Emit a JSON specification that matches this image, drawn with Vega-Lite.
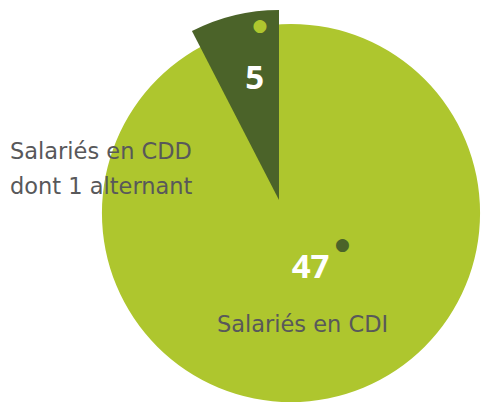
{
  "$schema": "https://vega.github.io/schema/vega-lite/v6.json",
  "width": 485,
  "height": 406,
  "autosize": {"type": "fit", "contains": "padding"},
  "padding": 0,
  "background": "white",
  "config": {"view": {"stroke": null}},
  "data": {
    "values": [
      {"category": "CDI", "value": 47, "label": "Salariés en CDI"},
      {"category": "CDD", "value": 5, "label": "Salariés en CDD\ndont 1 alternant"}
    ]
  },
  "layer": [
    {
      "transform": [{"filter": "datum.category === 'CDI'"}],
      "encoding": {"theta": {"field": "value", "type": "quantitative", "stack": true}},
      "layer": [
        {"mark": {"type": "arc", "radius": 189, "xOffset": 48.5, "yOffset": 10, "color": "#aec62e"}},
        {
          "mark": {"type": "text", "radius": 55, "xOffset": 68, "yOffset": 10, "font": "Open Sans", "fontWeight": "bold", "fontSize": 33, "color": "white", "baseline": "middle", "align": "center"},
          "encoding": {"text": {"field": "value", "type": "quantitative"}}
        },
        {
          "mark": {"type": "text", "radius": 112, "xOffset": 60, "yOffset": 10, "font": "DejaVu Sans", "fontSize": 22.5, "color": "#58585a", "baseline": "middle", "align": "center"},
          "encoding": {"text": {"field": "label", "type": "nominal"}}
        },
        {
          "mark": {"type": "text", "text": "●", "radius": 32, "xOffset": 99.8, "yOffset": 10, "font": "DejaVu Sans", "fontSize": 17, "color": "#4b6329", "baseline": "middle", "align": "center"}
        }
      ]
    },
    {
      "transform": [{"filter": "datum.category === 'CDD'"}],
      "encoding": {"theta": {"field": "value", "type": "quantitative", "stack": true, "scale": {"domain": [0, 66], "range": [0, -6.283185]}}},
      "layer": [
        {"mark": {"type": "arc", "radius": 190, "xOffset": 36.5, "yOffset": -3, "color": "#4b6329"}},
        {
          "mark": {"type": "text", "radius": 124, "xOffset": 41.5, "yOffset": -3, "font": "Open Sans", "fontWeight": "bold", "fontSize": 33, "color": "white", "baseline": "middle", "align": "center"},
          "encoding": {"text": {"field": "value", "type": "quantitative"}}
        },
        {
          "mark": {"type": "text", "text": "●", "radius": 179, "xOffset": 59.6, "yOffset": -3, "font": "DejaVu Sans", "fontSize": 17, "color": "#aec62e", "baseline": "middle", "align": "center"}
        }
      ]
    },
    {
      "transform": [{"filter": "datum.category === 'CDD'"}],
      "mark": {"type": "text", "xOffset": -232.5, "yOffset": -44, "font": "DejaVu Sans", "fontSize": 22.5, "color": "#58585a", "align": "left", "baseline": "alphabetic", "lineBreak": "\n", "lineHeight": 35},
      "encoding": {"text": {"field": "label", "type": "nominal"}}
    }
  ],
  "resolve": {"scale": {"theta": "independent"}}
}
